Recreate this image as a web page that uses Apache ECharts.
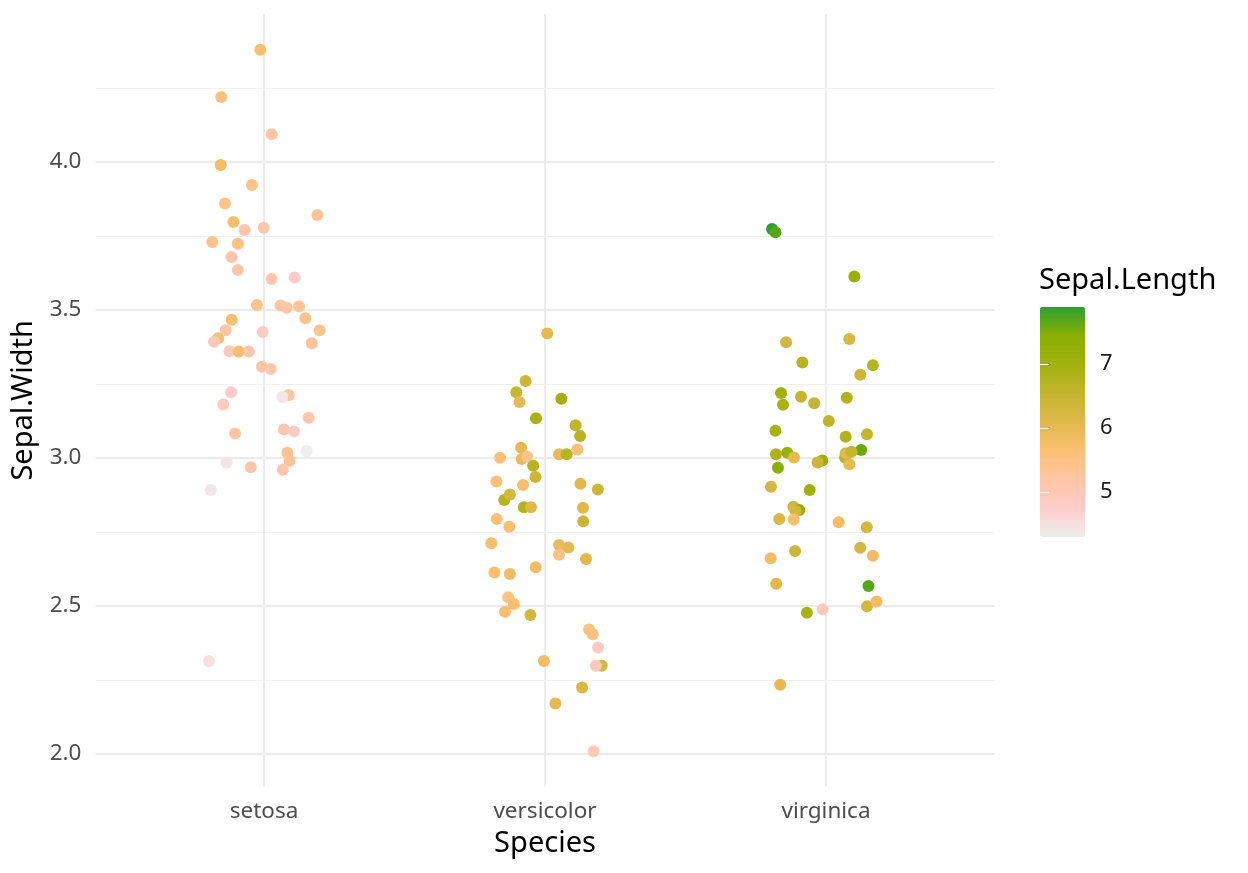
<!DOCTYPE html>
<html><head><meta charset="utf-8">
<script src="https://cdn.jsdelivr.net/npm/echarts@6/dist/echarts.min.js"></script>
<style>html,body{margin:0;padding:0;background:#fff}#c{width:1248px;height:873px}</style>
</head><body><div id="c"></div>
<script>
const species = ['setosa', 'versicolor', 'virginica'];

const setosaJitter = [-0.013, -0.152, 0.027, -0.154, -0.043, -0.139, 0.190, -0.109, -0.069, -0.001, -0.184, -0.093, -0.116, -0.093, 0.027, 0.109, -0.025, 0.059, 0.081, 0.125, -0.115, 0.147, 0.198, -0.136, -0.005, -0.163, -0.178, 0.170, -0.123, -0.090, -0.054, -0.007, 0.024, -0.117, -0.145, 0.088, 0.065, 0.159, -0.103, 0.071, 0.107, 0.152, 0.083, 0.091, -0.133, -0.047, 0.067, -0.190, -0.196];
const setosaWidth = [4.379, 4.220, 4.094, 3.990, 3.922, 3.860, 3.821, 3.797, 3.770, 3.778, 3.730, 3.724, 3.679, 3.635, 3.605, 3.610, 3.517, 3.515, 3.508, 3.513, 3.467, 3.472, 3.432, 3.432, 3.426, 3.405, 3.393, 3.388, 3.361, 3.360, 3.360, 3.308, 3.301, 3.222, 3.181, 3.213, 3.206, 3.136, 3.083, 3.096, 3.090, 3.024, 3.018, 2.991, 2.984, 2.969, 2.960, 2.892, 2.314];
const setosaLength = [5.7, 5.5, 5.2, 5.8, 5.4, 5.4, 5.3, 5.7, 5.1, 5.1, 5.4, 5.5, 5.1, 5.1, 5.1, 4.8, 5.4, 5.2, 5.2, 5.3, 5.7, 5.4, 5.4, 5.2, 4.8, 5.7, 5.0, 5.3, 5.0, 5.7, 5.1, 5.2, 5.1, 4.8, 4.9, 5.2, 4.4, 5.1, 5.2, 5.1, 4.8, 4.3, 5.4, 5.3, 4.4, 5.1, 5.1, 4.4, 4.5];

const versicolorJitter = [0.008, -0.069, -0.102, -0.091, 0.058, -0.032, 0.109, 0.125, -0.085, 0.115, 0.050, 0.077, -0.160, -0.083, -0.063, -0.042, -0.034, -0.173, -0.078, 0.126, 0.188, -0.145, -0.125, -0.075, -0.050, 0.135, 0.136, -0.172, -0.127, -0.191, 0.050, 0.083, 0.050, 0.146, -0.033, -0.180, -0.125, -0.131, -0.111, -0.142, -0.052, 0.157, 0.170, 0.189, 0.202, 0.181, -0.004, 0.132, 0.037, 0.173];
const versicolorWidth = [3.421, 3.260, 3.222, 3.189, 3.200, 3.134, 3.111, 3.074, 3.035, 3.029, 3.013, 3.013, 3.001, 2.997, 3.004, 2.974, 2.936, 2.921, 2.909, 2.913, 2.894, 2.858, 2.877, 2.834, 2.834, 2.832, 2.786, 2.794, 2.768, 2.712, 2.706, 2.698, 2.673, 2.659, 2.631, 2.613, 2.608, 2.530, 2.507, 2.481, 2.470, 2.421, 2.405, 2.360, 2.298, 2.298, 2.314, 2.225, 2.171, 2.009];
const versicolorLength = [6.0, 6.4, 6.5, 6.0, 7.0, 6.9, 6.6, 6.7, 6.0, 5.6, 6.0, 6.7, 5.6, 5.9, 5.4, 6.7, 6.4, 5.6, 5.7, 6.1, 6.4, 6.7, 6.3, 6.8, 6.1, 6.1, 6.4, 5.6, 5.7, 5.7, 5.9, 6.0, 5.5, 6.1, 5.8, 5.7, 5.8, 5.5, 5.7, 5.7, 6.3, 5.5, 5.5, 4.9, 6.3, 5.0, 5.8, 6.2, 6.0, 5.0];

const virginicaJitter = [-0.192, -0.180, 0.101, -0.142, 0.083, -0.084, 0.167, 0.122, -0.160, -0.089, -0.153, -0.042, 0.074, 0.010, -0.180, 0.070, 0.146, 0.125, -0.178, -0.138, -0.114, -0.013, -0.030, 0.068, 0.070, 0.091, 0.083, -0.171, -0.196, -0.058, -0.116, -0.095, -0.108, -0.166, -0.115, 0.045, 0.145, -0.110, 0.122, -0.197, 0.167, -0.177, 0.151, 0.146, 0.180, -0.068, -0.012, -0.163];
const virginicaWidth = [3.774, 3.763, 3.613, 3.391, 3.402, 3.323, 3.313, 3.281, 3.220, 3.207, 3.180, 3.185, 3.204, 3.125, 3.092, 3.072, 3.080, 3.027, 3.013, 3.018, 3.002, 2.992, 2.985, 3.002, 3.016, 3.021, 2.979, 2.967, 2.903, 2.892, 2.835, 2.824, 2.821, 2.794, 2.792, 2.783, 2.766, 2.686, 2.697, 2.661, 2.670, 2.575, 2.568, 2.499, 2.515, 2.477, 2.489, 2.234];
const virginicaLength = [7.9, 7.7, 7.2, 6.3, 6.2, 6.7, 6.7, 6.4, 7.0, 6.5, 6.9, 6.5, 6.8, 6.6, 6.9, 6.8, 6.5, 7.6, 6.8, 7.1, 6.0, 7.1, 6.4, 6.7, 6.1, 6.5, 6.0, 7.4, 6.3, 7.1, 6.3, 7.3, 6.3, 6.2, 5.7, 5.8, 6.3, 6.4, 6.3, 5.8, 5.8, 6.1, 7.7, 6.3, 5.8, 6.9, 4.9, 6.0];

const yMajorTicks = [2.0, 2.5, 3.0, 3.5, 4.0];
const yMinorTicks = [2.25, 2.75, 3.25, 3.75, 4.25];
const xTicks = [1, 2, 3];
const legendTicks = [5, 6, 7];
const colorStops = ['#EEEEEE', '#FFCCCC', '#FEC6A4', '#FCBF72', '#E0B94A', '#C3B42E', '#A2B10E', '#8AAE05', '#2CA02C'];

function build(idx, jit, sw, sl) {
  return jit.map((j, i) => [idx + 1 + j, sw[i], sl[i]]);
}
const points = [].concat(
  build(0, setosaJitter, setosaWidth, setosaLength),
  build(1, versicolorJitter, versicolorWidth, versicolorLength),
  build(2, virginicaJitter, virginicaWidth, virginicaLength)
);

const chart = echarts.init(document.getElementById('c'), null, {renderer: 'canvas'});
const FONT = 'Noto Sans';
const legendTickStyle = {show: true, inside: true, length: 9, lineStyle: {color: '#fff', width: 1}, customValues: legendTicks};

chart.setOption({
  animation: false,
  backgroundColor: '#fff',
  textStyle: {fontFamily: FONT},
  title: {
    text: 'Sepal.Length', left: 1034, top: 261,
    textStyle: {fontSize: 29, fontWeight: 'normal', color: '#000', fontFamily: FONT}
  },
  grid: [
    {left: 95.4, right: 253.4, top: 14, bottom: 86.4},
    {left: 1040, top: 306.7, width: 45, height: 230}
  ],
  xAxis: [
    {
      type: 'value', gridIndex: 0, min: 0.4, max: 3.6,
      axisLine: {show: false}, axisTick: {show: false}, splitLine: {show: false},
      axisLabel: {customValues: xTicks, formatter: v => species[Math.round(v) - 1], fontSize: 22.5, color: '#4D4D4D', margin: 13, fontFamily: FONT},
      name: 'Species', nameLocation: 'middle', nameGap: 43,
      nameTextStyle: {fontSize: 29, color: '#000', fontFamily: FONT}
    },
    {type: 'value', gridIndex: 1, min: 0, max: 1, show: false}
  ],
  yAxis: [
    {
      type: 'value', gridIndex: 0, min: 1.89, max: 4.5,
      axisLine: {show: false}, axisTick: {show: false}, splitLine: {show: false},
      axisLabel: {customValues: yMajorTicks, formatter: v => v.toFixed(1), fontSize: 22.5, color: '#4D4D4D', margin: 14, fontFamily: FONT},
      name: 'Sepal.Width', nameLocation: 'middle', nameGap: 51,
      nameTextStyle: {fontSize: 29, color: '#000', fontFamily: FONT}
    },
    {
      type: 'value', gridIndex: 1, min: 4.3, max: 7.9, position: 'right', z: 10,
      axisLine: {show: false}, splitLine: {show: false},
      axisTick: legendTickStyle,
      axisLabel: {customValues: legendTicks, fontSize: 22, color: '#1A1A1A', margin: 15, fontFamily: FONT}
    },
    {
      type: 'value', gridIndex: 1, min: 4.3, max: 7.9, position: 'left', z: 10,
      axisLine: {show: false}, splitLine: {show: false},
      axisTick: legendTickStyle,
      axisLabel: {show: false}
    }
  ],
  visualMap: {
    type: 'continuous', min: 4.3, max: 7.9, dimension: 2, seriesIndex: 0,
    calculable: false, hoverLink: false, realtime: false,
    itemWidth: 45, itemHeight: 230, left: 1040, top: 306.7, padding: 0,
    text: null, showLabel: false,
    inRange: {color: colorStops}
  },
  series: [
    {
      type: 'scatter', xAxisIndex: 0, yAxisIndex: 0, data: points, symbolSize: 12, z: 5,
      itemStyle: {opacity: 1}, silent: true
    },
    {
      type: 'scatter', xAxisIndex: 0, yAxisIndex: 0, data: [], z: 1, silent: true,
      markLine: {
        silent: true, symbol: ['none', 'none'], label: {show: false}, animation: false,
        lineStyle: {color: '#EBEBEB', width: 1.8, type: 'solid'},
        emphasis: {disabled: true},
        data: yMajorTicks.map(v => ({yAxis: v})).concat(xTicks.map(v => ({xAxis: v})))
      }
    },
    {
      type: 'scatter', xAxisIndex: 0, yAxisIndex: 0, data: [], z: 1, silent: true,
      markLine: {
        silent: true, symbol: ['none', 'none'], label: {show: false}, animation: false,
        lineStyle: {color: '#EFEFEF', width: 0.9, type: 'solid'},
        emphasis: {disabled: true},
        data: yMinorTicks.map(v => ({yAxis: v}))
      }
    }
  ]
});
</script>
</body></html>
